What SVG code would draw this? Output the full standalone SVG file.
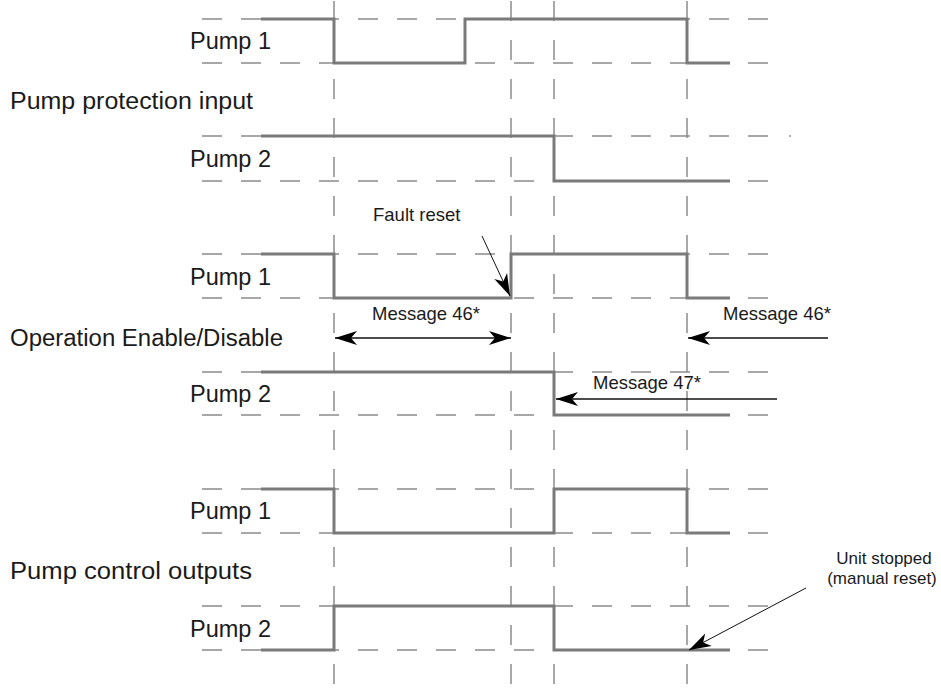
<svg xmlns="http://www.w3.org/2000/svg" width="941" height="689" viewBox="0 0 941 689">
<style>
.bg{fill:#fff}
.grid{stroke:#8c8c8c;stroke-width:1.5;fill:none}
.gh{stroke-dasharray:20 19}
.gv{stroke-dasharray:20 19}
.sig{stroke:#7a7a7a;stroke-width:3;fill:none;stroke-linejoin:miter;stroke-linecap:butt}
.lbl{font-family:"Liberation Sans",Arial,Helvetica,sans-serif;font-size:23.5px;fill:#1a1a1a}
.sm{font-family:"Liberation Sans",Arial,Helvetica,sans-serif;font-size:18.5px;fill:#1a1a1a}
.us{font-family:"Liberation Sans",Arial,Helvetica,sans-serif;font-size:17px;fill:#1a1a1a;text-anchor:middle}
.arr{stroke:#111;stroke-width:1.3;fill:none}
.thin{stroke:#111;stroke-width:1;fill:none}
</style>
<defs>
<marker id="ah" viewBox="-23 -8 25 16" markerWidth="25" markerHeight="16" refX="0" refY="0" orient="auto-start-reverse" markerUnits="userSpaceOnUse">
<path d="M0,0 L-22,-7 L-16,0 L-22,7 Z" fill="#000"/>
</marker>
</defs>
<rect class="bg" x="0" y="0" width="941" height="689"/>
<g id="grid">
<path class="grid gh" d="M202 19H768M202 63H768M202 136H768M202 181H768M202 254H768M202 298H768M202 372H768M202 415H768M202 489H768M202 533H768M202 606H768M202 650H768"/>
<path class="grid" d="M789 136H791"/>
<path class="grid gv" d="M334 1V689M511 1V689M554 1V689M687 1V689"/>
</g>
<g id="sig-prot-p1"><path class="sig" d="M261 19H334V63H465V19H687V63H730"/></g>
<g id="sig-prot-p2"><path class="sig" d="M261 136H554V181H730"/></g>
<g id="sig-op-p1"><path class="sig" d="M261 254H334V298H511V254H687V298H730"/></g>
<g id="sig-op-p2"><path class="sig" d="M261 372H554V415H730"/></g>
<g id="sig-out-p1"><path class="sig" d="M261 489H334V533H554V489H687V533H730"/></g>
<g id="sig-out-p2"><path class="sig" d="M261 650H334V606H554V650H730"/></g>
<g id="labels">
<text class="lbl" x="190" y="49">Pump 1</text>
<text class="lbl" x="10" y="109" textLength="243" lengthAdjust="spacingAndGlyphs">Pump protection input</text>
<text class="lbl" x="190" y="167">Pump 2</text>
<text class="lbl" x="190" y="285">Pump 1</text>
<text class="lbl" x="10" y="346" textLength="273" lengthAdjust="spacingAndGlyphs">Operation Enable/Disable</text>
<text class="lbl" x="190" y="402">Pump 2</text>
<text class="lbl" x="190" y="519">Pump 1</text>
<text class="lbl" x="10" y="579" textLength="242" lengthAdjust="spacingAndGlyphs">Pump control outputs</text>
<text class="lbl" x="190" y="637">Pump 2</text>
</g>
<g id="annotations">
<text class="sm" x="373" y="221">Fault reset</text>
<text class="sm" x="372" y="320">Message 46*</text>
<text class="sm" x="723" y="320">Message 46*</text>
<text class="sm" x="593" y="389">Message 47*</text>
<text class="us" x="884" y="564">Unit stopped</text>
<text class="us" x="882" y="584">(manual reset)</text>
</g>
<g id="connectors">
<line class="thin" x1="482" y1="236" x2="510" y2="296" marker-end="url(#ah)"/>
<line class="arr" x1="335" y1="338" x2="511" y2="338" marker-start="url(#ah)" marker-end="url(#ah)"/>
<line class="arr" x1="828" y1="338" x2="688" y2="338" marker-end="url(#ah)"/>
<line class="arr" x1="777" y1="399" x2="556" y2="399" marker-end="url(#ah)"/>
<line class="thin" x1="806" y1="588" x2="689" y2="650" marker-end="url(#ah)"/>
</g>
</svg>
